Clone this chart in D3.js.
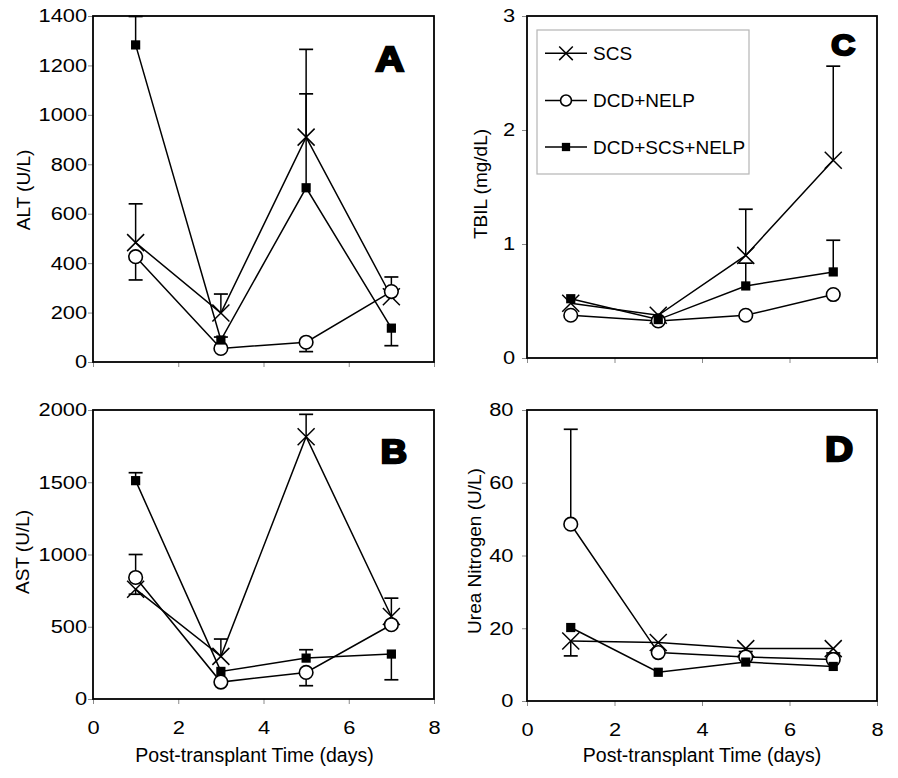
<!DOCTYPE html>
<html><head><meta charset="utf-8">
<script src="https://cdn.jsdelivr.net/npm/d3@7"></script>
<style>body{margin:0;background:#fff}</style>
</head><body>
<svg id="chart" width="898" height="778"></svg>
<script>
// ---------- DATA ----------
const days = [1, 3, 5, 7];
const seriesNames = ["SCS", "DCD+NELP", "DCD+SCS+NELP"];
const xTicks = [0, 2, 4, 6, 8];
const xTitle = "Post-transplant Time (days)";

// Panel A – ALT (U/L)
const altTicks = [0, 200, 400, 600, 800, 1000, 1200, 1400];
const altSCS = [483, 198, 910, 264];
const altSCSUp = [157, 77, 355, 80];
const altSCSDown = [0, 0, 0, 0];
const altNELP = [426, 55, 80, 285];
const altNELPUp = [0, 0, 0, 0];
const altNELPDown = [94, 0, 38, 0];
const altSCSNELP = [1283, 89, 705, 137];
const altSCSNELPUp = [115, 12, 380, 0];
const altSCSNELPDown = [0, 0, 0, 71];

// Panel B – AST (U/L)
const astTicks = [0, 500, 1000, 1500, 2000];
const astSCS = [760, 295, 1815, 571];
const astSCSUp = [0, 120, 155, 127];
const astSCSDown = [35, 0, 0, 0];
const astNELP = [841, 117, 184, 514];
const astNELPUp = [159, 0, 0, 0];
const astNELPDown = [0, 0, 92, 0];
const astSCSNELP = [1511, 191, 283, 311];
const astSCSNELPUp = [55, 0, 58, 0];
const astSCSNELPDown = [0, 0, 0, 178];

// Panel C – TBIL (mg/dL)
const tbilTicks = [0, 1, 2, 3];
const tbilSCS = [0.48, 0.375, 0.90, 1.735];
const tbilSCSUp = [0, 0, 0.405, 0.825];
const tbilSCSDown = [0, 0, 0, 0];
const tbilNELP = [0.375, 0.325, 0.375, 0.557];
const tbilNELPUp = [0, 0, 0, 0];
const tbilNELPDown = [0, 0, 0, 0];
const tbilSCSNELP = [0.52, 0.337, 0.632, 0.755];
const tbilSCSNELPUp = [0, 0, 0.2, 0.278];
const tbilSCSNELPDown = [0, 0, 0, 0];

// Panel D – Urea Nitrogen (U/L)
const bunTicks = [0, 20, 40, 60, 80];
const bunSCS = [16.5, 16.1, 14.4, 14.4];
const bunSCSUp = [0, 0, 0, 0];
const bunSCSDown = [4.1, 0, 0, 0];
const bunNELP = [48.6, 13.3, 12.1, 11.4];
const bunNELPUp = [26.1, 0, 1.5, 1.8];
const bunNELPDown = [0, 0, 0, 0];
const bunSCSNELP = [20.2, 7.9, 10.7, 9.5];
const bunSCSNELPUp = [0, 0, 0, 0];
const bunSCSNELPDown = [0, 0, 0, 0];

// ---------- LAYOUT ----------
const FONT = "'Liberation Sans', Arial, Helvetica, sans-serif";
const panels = [
  { letter: "A", l: 93, r: 434, t: 16, b: 362, ticks: altTicks, title: "ALT (U/L)",
    tx: 30, ty: 190, pad: 0, xLabels: false, lx: 404, ly: 71, ls: 36,
    series: [[altSCS, altSCSUp, altSCSDown], [altNELP, altNELPUp, altNELPDown], [altSCSNELP, altSCSNELPUp, altSCSNELPDown]] },
  { letter: "B", l: 93, r: 434, t: 410, b: 699, ticks: astTicks, title: "AST (U/L)",
    tx: 28.5, ty: 552, pad: 0, xLabels: true, lx: 407, ly: 463, ls: 33,
    series: [[astSCS, astSCSUp, astSCSDown], [astNELP, astNELPUp, astNELPDown], [astSCSNELP, astSCSNELPUp, astSCSNELPDown]] },
  { letter: "C", l: 527, r: 877, t: 16, b: 358, ticks: tbilTicks, title: "TBIL (mg/dL)",
    tx: 486.5, ty: 184, pad: 5, xLabels: false, lx: 855, ly: 55, ls: 30,
    series: [[tbilSCS, tbilSCSUp, tbilSCSDown], [tbilNELP, tbilNELPUp, tbilNELPDown], [tbilSCSNELP, tbilSCSNELPUp, tbilSCSNELPDown]] },
  { letter: "D", l: 527, r: 877, t: 410, b: 701, ticks: bunTicks, title: "Urea Nitrogen (U/L)",
    tx: 481, ty: 551, pad: 6.5, xLabels: true, lx: 853, ly: 461, ls: 35,
    series: [[bunSCS, bunSCSUp, bunSCSDown], [bunNELP, bunNELPUp, bunNELPDown], [bunSCSNELP, bunSCSNELPUp, bunSCSNELPDown]] }
];

const svg = d3.select("#chart");
svg.append("rect").attr("width", 898).attr("height", 778).attr("fill", "#fff");

function drawMarker(g, kind, cx, cy, scale) {
  const s = scale || 1;
  if (kind === 0) {
    const h = 8.5 * s;
    g.append("path").attr("d", `M${cx - h},${cy - h}L${cx + h},${cy + h}M${cx - h},${cy + h}L${cx + h},${cy - h}`)
      .attr("stroke", "#000").attr("stroke-width", 1.5).attr("fill", "none");
  } else if (kind === 1) {
    g.append("circle").attr("cx", cx).attr("cy", cy).attr("r", 6.8 * s)
      .attr("fill", "#fff").attr("stroke", "#000").attr("stroke-width", 1.6);
  } else {
    const h = 4.6 * s;
    g.append("rect").attr("x", cx - h).attr("y", cy - h).attr("width", 2 * h).attr("height", 2 * h).attr("fill", "#000");
  }
}

panels.forEach(p => {
  const x = d3.scaleLinear().domain([0, 8]).range([p.l, p.r]);
  const y = d3.scaleLinear().domain([0, p.ticks[p.ticks.length - 1]]).range([p.b, p.t]);
  const g = svg.append("g");

  // y axis
  const ya = g.append("g").attr("transform", `translate(${p.l},0)`)
    .call(d3.axisLeft(y).tickValues(p.ticks).tickSize(5).tickPadding(p.pad).tickFormat(d3.format("d")));
  ya.select(".domain").remove();
  ya.selectAll(".tick line").attr("stroke", "#8a8a8a");
  ya.selectAll(".tick text").attr("font-family", FONT).attr("font-size", 18.5).attr("fill", "#000")
    .attr("transform", "scale(1.18,1)");

  // x axis
  const xa = g.append("g").attr("transform", `translate(0,${p.b})`)
    .call(d3.axisBottom(x).tickValues(xTicks).tickSize(5).tickPadding(17)
      .tickFormat(p.xLabels ? d3.format("d") : () => ""));
  xa.select(".domain").remove();
  xa.selectAll(".tick line").attr("stroke", "#8a8a8a");
  xa.selectAll(".tick text").attr("font-family", FONT).attr("font-size", 18.5).attr("fill", "#000")
    .attr("transform", "scale(1.18,1)");

  // frame
  g.append("rect").attr("x", p.l).attr("y", p.t).attr("width", p.r - p.l).attr("height", p.b - p.t)
    .attr("fill", "none").attr("stroke", "#000").attr("stroke-width", 1.8);

  // y title
  g.append("text").attr("transform", `translate(${p.tx},${p.ty}) rotate(-90)`)
    .attr("text-anchor", "middle").attr("font-family", FONT).attr("font-size", 19).text(p.title);

  // x title
  if (p.xLabels) {
    g.append("text").attr("x", (p.l + p.r) / 2 - (p.letter === "B" ? 9 : 0)).attr("y", 762)
      .attr("text-anchor", "middle").attr("font-family", FONT).attr("font-size", 19.5).text(xTitle);
  }

  // lines
  const line = d3.line().x((d, i) => x(days[i])).y(d => y(d));
  p.series.forEach(s => {
    g.append("path").attr("d", line(s[0])).attr("fill", "none").attr("stroke", "#000").attr("stroke-width", 1.5);
  });
  // error bars
  p.series.forEach(s => {
    s[0].forEach((v, i) => {
      const cx = x(days[i]);
      [[s[1][i], 1], [s[2][i], -1]].forEach(([e, dir]) => {
        if (!e) return;
        const y0 = y(v), y1 = y(v + dir * e);
        g.append("line").attr("x1", cx).attr("x2", cx).attr("y1", y0).attr("y2", y1)
          .attr("stroke", "#000").attr("stroke-width", 1.5);
        g.append("line").attr("x1", cx - 7).attr("x2", cx + 7).attr("y1", y1).attr("y2", y1)
          .attr("stroke", "#000").attr("stroke-width", 1.7);
      });
    });
  });
  // markers
  p.series.forEach((s, k) => {
    s[0].forEach((v, i) => drawMarker(g, k, x(days[i]), y(v)));
  });

  // panel letter
  g.append("text").attr("transform", `translate(${p.lx},${p.ly}) scale(1.1,1)`)
    .attr("text-anchor", "end").attr("font-family", FONT).attr("font-weight", 900)
    .attr("font-size", p.ls).attr("stroke", "#000").attr("stroke-width", 2.4).attr("fill", "#000")
    .text(p.letter);
});

// legend (in panel C)
const lg = svg.append("g");
lg.append("rect").attr("x", 537).attr("y", 30).attr("width", 212).attr("height", 144)
  .attr("fill", "#fff").attr("stroke", "#b5b5b5").attr("stroke-width", 1.2);
const legendRows = [53.3, 100.5, 147];
seriesNames.forEach((name, k) => {
  const yy = legendRows[k];
  lg.append("line").attr("x1", 545).attr("x2", 587).attr("y1", yy).attr("y2", yy)
    .attr("stroke", "#000").attr("stroke-width", 1.5);
  drawMarker(lg, k, 566, yy, k === 2 ? 0.9 : 0.8);
  lg.append("text").attr("x", 593).attr("y", yy + 6.8).attr("font-family", FONT).attr("font-size", 19)
    .attr("fill", "#000").text(name);
});
</script>
</body></html>
